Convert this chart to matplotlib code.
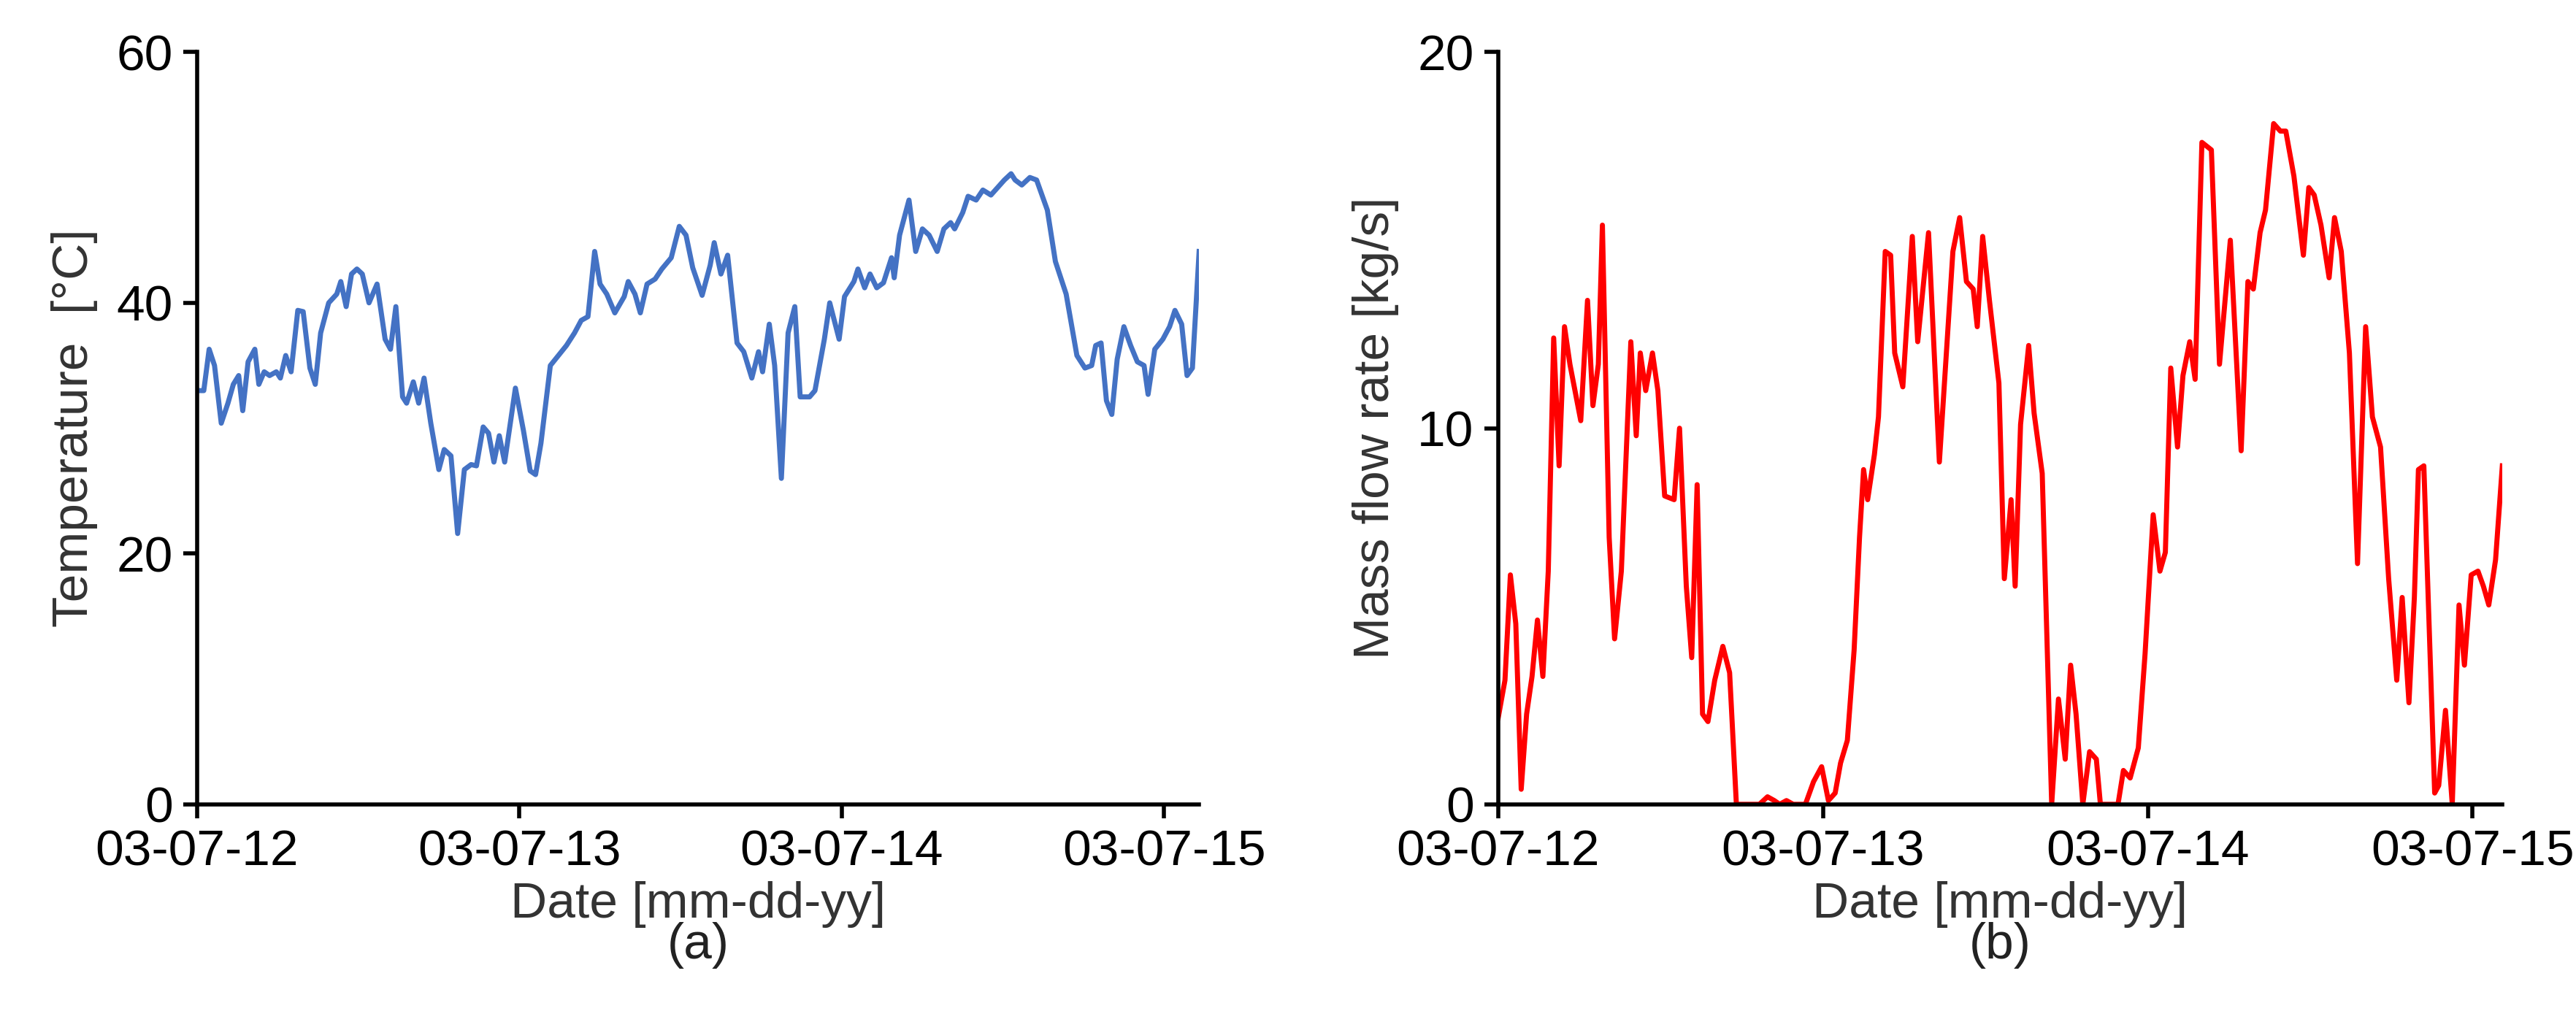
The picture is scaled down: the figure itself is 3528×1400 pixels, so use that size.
import matplotlib
matplotlib.use("Agg")
import matplotlib.pyplot as plt
import numpy as np

plt.rcParams['font.family'] = ['Liberation Sans', 'DejaVu Sans']

# hours since 03-07-12 00:00 and temperature [C]
temp_hours = [0, 0.5, 0.9, 1.3, 1.8, 2.3, 2.7, 3.1, 3.4, 3.8, 4.3, 4.6, 5.0, 5.4, 5.9, 6.2, 6.6, 7.0,
              7.5, 7.9, 8.4, 8.8, 9.2, 9.8, 10.4, 10.7, 11.1, 11.5, 11.9, 12.3, 12.8, 13.4, 14.0, 14.4,
              14.8, 15.3, 15.6, 16.1, 16.5, 16.9, 17.4, 18.0, 18.4, 18.9, 19.4, 19.9, 20.4, 20.8, 21.3,
              21.7, 22.1, 22.5, 22.9, 23.7, 24.3, 24.8, 25.2, 25.6, 26.3, 26.9, 27.5, 28.1, 28.6, 29.1,
              29.6, 30.0, 30.5, 31.1, 31.8, 32.1, 32.6, 33.0, 33.5, 34.1, 34.6, 35.3, 35.9, 36.4, 36.9,
              37.6, 38.2, 38.5, 39.0, 39.5, 40.2, 40.7, 41.3, 41.8, 42.1, 42.6, 43.0, 43.5, 44.0, 44.5,
              44.9, 45.6, 46.0, 46.7, 47.1, 47.8, 48.2, 48.9, 49.2, 49.7, 50.1, 50.6, 51.1, 51.7, 51.9,
              52.3, 53.0, 53.5, 54.0, 54.5, 55.1, 55.6, 56.1, 56.4, 57.0, 57.4, 58.0, 58.5, 59.1, 59.6,
              60.1, 60.6, 60.9, 61.4, 62.0, 62.5, 63.3, 63.9, 64.7, 65.5, 66.1, 66.6, 66.9, 67.3, 67.7,
              68.1, 68.5, 69.0, 69.5, 70.0, 70.5, 70.8, 71.3, 71.9, 72.4, 72.8, 73.3, 73.7, 74.1, 74.6]
temp_vals = [33, 33, 36.3, 35, 30.4, 32, 33.5, 34.2, 31.4, 35.3, 36.3, 33.5, 34.5, 34.2, 34.5, 34, 35.8, 34.5,
             39.4, 39.3, 34.8, 33.5, 37.6, 40, 40.7, 41.7, 39.7, 42.3, 42.7, 42.3, 40, 41.5, 37.1, 36.3,
             39.7, 32.5, 32, 33.7, 32, 34, 30.4, 26.7, 28.3, 27.8, 21.6, 26.7, 27.1, 27, 30.1,
             29.6, 27.3, 29.4, 27.3, 33.2, 29.8, 26.6, 26.3, 28.8, 35, 35.8, 36.6, 37.6, 38.6, 38.9,
             44.1, 41.5, 40.7, 39.2, 40.5, 41.7, 40.7, 39.2, 41.5, 41.9, 42.7, 43.6, 46.1, 45.4, 42.8,
             40.6, 43, 44.8, 42.3, 43.8, 36.8, 36.1, 34, 36.1, 34.5, 38.3, 35, 26, 37.6, 39.7,
             32.5, 32.5, 33, 37.1, 40, 37.1, 40.5, 41.7, 42.7, 41.2, 42.3, 41.2, 41.6, 43.6, 42,
             45.4, 48.2, 44.1, 45.9, 45.4, 44.1, 45.9, 46.4, 45.9, 47.2, 48.5, 48.2, 49, 48.6, 49.2,
             49.8, 50.3, 49.8, 49.4, 50, 49.8, 47.4, 43.3, 40.7, 35.8, 34.8, 35, 36.6, 36.8, 32.2,
             31.1, 35.5, 38.1, 36.6, 35.3, 35, 32.7, 36.3, 37.1, 38.1, 39.4, 38.3, 34.2, 34.8, 44.1]

# hours since 03-07-12 00:00 and mass flow rate [kg/s]
flow_hours = [0, 0.5, 0.9, 1.3, 1.7, 2.1, 2.5, 2.9, 3.3, 3.7, 4.1, 4.5, 4.9, 5.3, 6.1, 6.6, 7.0, 7.4, 7.7,
              8.2, 8.6, 9.1, 9.8, 10.2, 10.5, 10.9, 11.4, 11.8, 12.3, 13.0, 13.4, 13.9, 14.3, 14.7, 15.1,
              15.5, 16.0, 16.6, 17.1, 17.6, 18.4, 19.3, 19.9, 20.4, 20.8, 21.3, 21.8, 22.7, 23.3, 23.9,
              24.4, 24.9, 25.3, 25.8, 26.3, 26.7, 27.0, 27.3, 27.8, 28.1, 28.6, 29.0, 29.3, 29.9, 30.6,
              31.0, 31.8, 32.6, 33.1, 33.6, 34.1, 34.6, 35.1, 35.4, 35.8, 36.3, 37.0, 37.4, 37.9, 38.2,
              38.6, 39.2, 39.6, 40.2, 40.9, 41.4, 41.9, 42.3, 42.7, 43.2, 43.7, 44.2, 44.5, 45.1, 45.8,
              46.2, 46.7, 47.3, 47.8, 48.4, 48.9, 49.3, 49.7, 50.2, 50.6, 51.1, 51.5, 52.0, 52.7, 53.3,
              54.1, 54.9, 55.4, 55.8, 56.3, 56.7, 57.3, 57.8, 58.2, 58.8, 59.5, 59.9, 60.3, 60.8, 61.4,
              61.8, 62.3, 62.9, 63.5, 64.1, 64.6, 65.2, 65.8, 66.4, 66.8, 67.3, 67.7, 68.0, 68.4, 69.2,
              69.5, 70.0, 70.5, 71.0, 71.4, 71.9, 72.4, 72.8, 73.2, 73.7, 74.2]
flow_vals = [2.3, 3.3, 6.1, 4.8, 0.4, 2.4, 3.4, 4.9, 3.4, 6.2, 12.4, 9.0, 12.7, 11.7, 10.2, 13.4, 10.6, 11.7, 15.4,
             7.1, 4.4, 6.2, 12.3, 9.8, 12.0, 11.0, 12.0, 11.0, 8.2, 8.1, 10.0, 5.8, 3.9, 8.5, 2.4,
             2.2, 3.3, 4.2, 3.5, 0, 0, 0, 0.2, 0.1, 0, 0.1, 0, 0, 0.6, 1.0,
             0.1, 0.3, 1.1, 1.7, 4.1, 7.1, 8.9, 8.1, 9.3, 10.3, 14.7, 14.6, 12.0, 11.1, 15.1,
             12.3, 15.2, 9.1, 11.9, 14.7, 15.6, 13.9, 13.7, 12.7, 15.1, 13.4, 11.2, 6.0, 8.1, 5.8,
             10.1, 12.2, 10.4, 8.8, 0, 2.8, 1.2, 3.7, 2.4, 0, 1.4, 1.2, 0, 0, 0,
             0.9, 0.7, 1.5, 4.0, 7.7, 6.2, 6.7, 11.6, 9.5, 11.4, 12.3, 11.3, 17.6, 17.4, 11.7,
             15.0, 9.4, 13.9, 13.7, 15.2, 15.8, 18.1, 17.9, 17.9, 16.7, 14.6, 16.4, 16.2, 15.4, 14.0,
             15.6, 14.7, 12.0, 6.4, 12.7, 10.3, 9.5, 6.0, 3.3, 5.5, 2.7, 5.5, 8.9, 9.0, 0.3,
             0.5, 2.5, 0, 5.3, 3.7, 6.1, 6.2, 5.8, 5.3, 6.5, 9.0]

date_ticks = [0, 1, 2, 3]
date_labels = ['03-07-12', '03-07-13', '03-07-14', '03-07-15']

fig = plt.figure(figsize=(35.28, 14), dpi=100)
ax1 = fig.add_axes([0.0765, 0.213, 0.389, 0.736])
ax2 = fig.add_axes([0.5816, 0.213, 0.3898, 0.736])

fs = 50
panels = [
    (ax1, temp_hours, temp_vals, '#4472C4', 'Temperature  [°C]', [0, 20, 40, 60], 74.6, '(a)'),
    (ax2, flow_hours, flow_vals, '#FF0000', 'Mass flow rate [kg/s]', [0, 10, 20], 74.2, '(b)'),
]
for ax, hrs, vals, col, ylab, yt, xmax, cap in panels:
    ax.plot(np.array(hrs) / 24.0, vals, color=col, lw=5)
    ax.set_xlim(0, xmax / 24.0)
    ax.set_ylim(yt[0], yt[-1])
    ax.set_yticks(yt)
    ax.set_xticks(date_ticks)
    ax.set_xticklabels(date_labels)
    ax.tick_params(labelsize=fs, width=4, length=14, direction='out', pad=10)
    for s in ['top', 'right']:
        ax.spines[s].set_visible(False)
    for s in ['left', 'bottom']:
        ax.spines[s].set_linewidth(4)
    ax.set_ylabel(ylab, fontsize=fs, color='#333333', labelpad=18)
    ax.set_xlabel('Date [mm-dd-yy]', fontsize=fs, color='#333333', labelpad=6)
    pos = ax.get_position()
    fig.text((pos.x0 + pos.x1) / 2, 0.075, cap, fontsize=fs, ha='center', va='center', color='#222222')

fig.savefig('out.png', dpi=100)
